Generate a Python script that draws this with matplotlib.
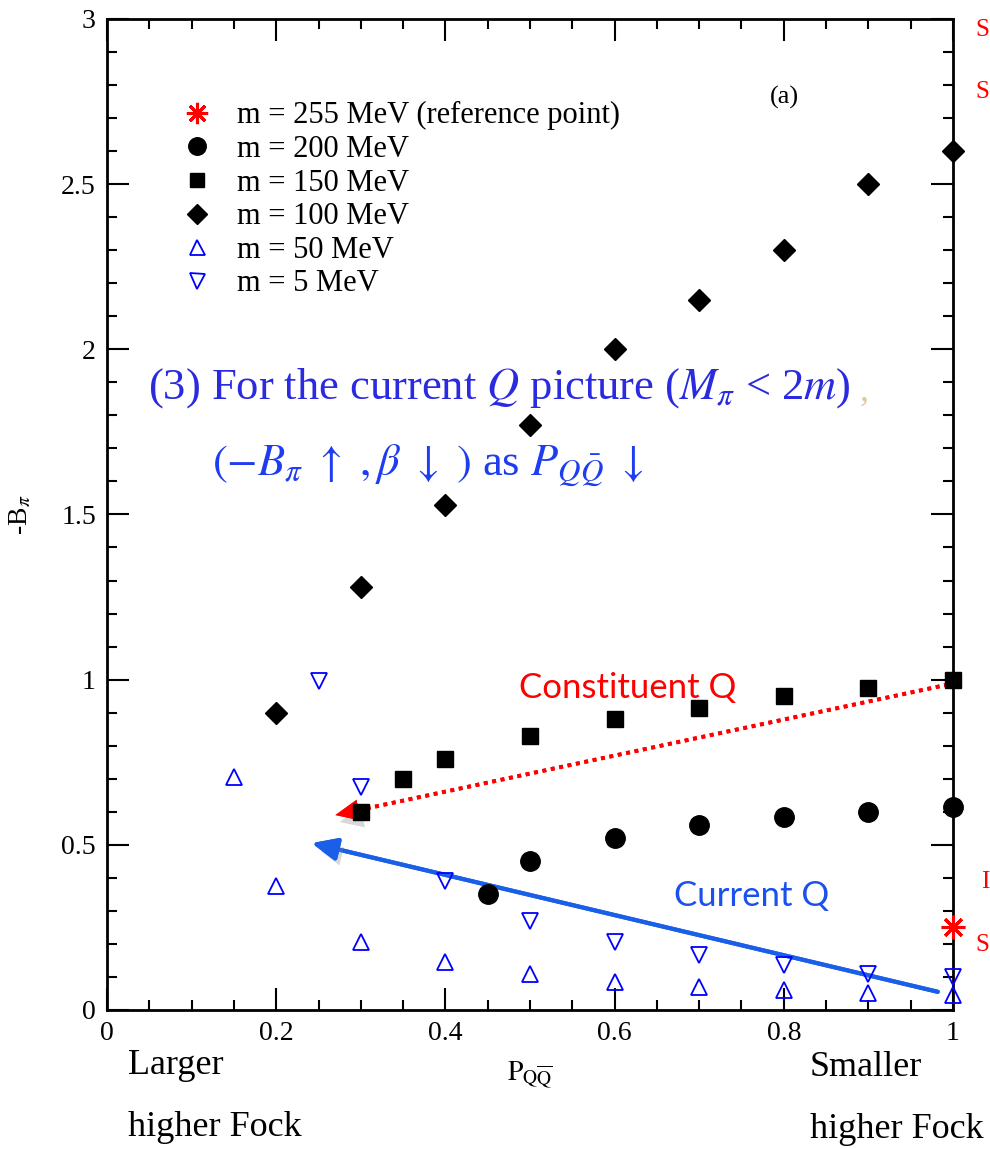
import matplotlib
matplotlib.use("Agg")
import matplotlib.pyplot as plt
import matplotlib.patheffects as pe
from matplotlib.ticker import MultipleLocator

plt.rcParams['font.family'] = ['Liberation Serif', 'DejaVu Serif']
plt.rcParams['mathtext.fontset'] = 'stix'

# m = 100 MeV (diamonds)
x100 = [0.2, 0.3, 0.4, 0.5, 0.6, 0.7, 0.8, 0.9, 1.0]
y100 = [0.90, 1.28, 1.53, 1.77, 2.00, 2.15, 2.30, 2.50, 2.60]
# m = 150 MeV (squares)
x150 = [0.3, 0.35, 0.4, 0.5, 0.6, 0.7, 0.8, 0.9, 1.0]
y150 = [0.60, 0.70, 0.76, 0.83, 0.88, 0.915, 0.95, 0.975, 1.0]
# m = 200 MeV (circles)
x200 = [0.45, 0.5, 0.6, 0.7, 0.8, 0.9, 1.0]
y200 = [0.35, 0.45, 0.52, 0.56, 0.585, 0.60, 0.615]
# m = 50 MeV (up triangles)
x50 = [0.15, 0.2, 0.3, 0.4, 0.5, 0.6, 0.7, 0.8, 0.9, 1.0]
y50 = [0.705, 0.375, 0.205, 0.145, 0.11, 0.085, 0.07, 0.06, 0.05, 0.045]
# m = 5 MeV (down triangles)
x5 = [0.25, 0.3, 0.4, 0.5, 0.6, 0.7, 0.8, 0.9, 1.0]
y5 = [0.995, 0.675, 0.39, 0.27, 0.205, 0.165, 0.135, 0.11, 0.10]
# reference point m = 255 MeV
x255 = [1.0]
y255 = [0.25]

fig = plt.figure(figsize=(9.9, 11.49), dpi=100)
ax = fig.add_axes([0.1081, 0.1210, 0.8545, 0.8625])

ax.plot(x255, y255, linestyle='none', marker=(8, 2, 0), markersize=17, color='red',
        markeredgewidth=2.2, clip_on=False, zorder=5, label='m = 255 MeV (reference point)')
ax.plot(x200, y200, linestyle='none', marker='o', markersize=14, color='black',
        clip_on=False, zorder=5, label='m = 200 MeV')
ax.plot(x150, y150, linestyle='none', marker='s', markersize=11.5, color='black',
        clip_on=False, zorder=5, label='m = 150 MeV')
ax.plot(x100, y100, linestyle='none', marker='D', markersize=11, color='black',
        clip_on=False, zorder=5, label='m = 100 MeV')
ax.plot(x50, y50, linestyle='none', marker='^', markersize=12, markerfacecolor='none',
        markeredgecolor='blue', markeredgewidth=1.3, clip_on=False, zorder=5, label='m = 50 MeV')
ax.plot(x5, y5, linestyle='none', marker='v', markersize=12, markerfacecolor='none',
        markeredgecolor='blue', markeredgewidth=1.3, clip_on=False, zorder=5, label='m = 5 MeV')

ax.legend(loc='upper left', bbox_to_anchor=(0.081, 0.923), frameon=False, fontsize=22,
          handlelength=1.0, handletextpad=0.8, labelspacing=0.15, borderpad=0.2,
          borderaxespad=0, markerscale=0.9)

ax.set_xlim(0, 1)
ax.set_ylim(0, 3)
ax.xaxis.set_minor_locator(MultipleLocator(0.05))
ax.yaxis.set_minor_locator(MultipleLocator(0.1))
ax.set_xticks([0, 0.2, 0.4, 0.6, 0.8, 1.0])
ax.set_xticklabels(['0', '0.2', '0.4', '0.6', '0.8', '1'])
ax.set_yticks([0, 0.5, 1, 1.5, 2, 2.5, 3])
ax.set_yticklabels(['0', '0.5', '1', '1.5', '2', '2.5', '3'])
ax.tick_params(which='both', direction='in', top=True, right=True, width=1.5, labelsize=20)
ax.tick_params(which='major', length=16, pad=8)
ax.tick_params(which='minor', length=7)
for s in ax.spines.values():
    s.set_linewidth(2)

ax.set_xlabel(r'$\mathrm{P}_{\mathrm{Q\overline{Q}}}$', fontsize=20, labelpad=10)
ax.set_ylabel(r'-B$_\pi$', fontsize=20, labelpad=20)
ax.text(0.801, 0.921, '(a)', transform=ax.transAxes, fontsize=19, ha='center', va='center')

# arrows with soft shadows
shadow = [pe.withSimplePatchShadow(offset=(3, -5), shadow_rgbFace='gray', alpha=0.3), pe.Normal()]
# constituent Q: dotted shaft + solid head
ax.annotate('', xy=(0.29, 0.601), xytext=(0.994, 0.985),
            arrowprops=dict(arrowstyle='-', color='red', lw=2.8, linestyle=(0, (1, 1.2)),
                            capstyle='butt', shrinkA=0, shrinkB=0, path_effects=shadow), zorder=4)
ax.annotate('', xy=(0.27, 0.59), xytext=(0.32, 0.617),
            arrowprops=dict(arrowstyle='-|>,head_length=0.9,head_width=0.4', color='red',
                            lw=0.01, mutation_scale=19, shrinkA=0, shrinkB=0,
                            path_effects=shadow), zorder=4)
ax.annotate('', xy=(0.242, 0.505), xytext=(0.982, 0.055),
            arrowprops=dict(arrowstyle='-|>,head_length=0.9,head_width=0.4', color='#1a5fe8',
                            lw=3, mutation_scale=17, shrinkA=0, shrinkB=0,
                            path_effects=shadow), zorder=4)

ax.text(0.615, 0.975, 'Constituent Q', color='red', fontsize=25, family='Lato',
        ha='center', va='center')
ax.text(0.762, 0.345, 'Current Q', color='#1a50f0', fontsize=25, family='Lato',
        ha='center', va='center')

ax.text(0.048, 1.883, r'(3) For the current $Q$ picture ($M_\pi$ < 2$m$)', color='#2a2ae0',
        fontsize=32, ha='left', va='center')
ax.text(0.89, 1.87, ',', color='#e0c8a0', fontsize=26, ha='left', va='center')
ax.text(0.124, 1.65,
        r'$(-B_\pi\ \uparrow\ ,\beta\ \downarrow\ )$ as $P_{Q\bar{Q}}\ \downarrow$',
        color='#1e3cf0', fontsize=32, ha='left', va='center')

# bottom annotations
fig.text(128 / 990, 1 - 1065 / 1149, 'Larger', fontsize=26, ha='left', va='center')
fig.text(128 / 990, 1 - 1128 / 1149, 'higher Fock', fontsize=26, ha='left', va='center')
fig.text(810 / 990, 1 - 1068 / 1149, 'Smaller', fontsize=26, ha='left', va='center')
fig.text(810 / 990, 1 - 1130 / 1149, 'higher Fock', fontsize=26, ha='left', va='center')

# red letters at the right edge
fig.text(989 / 990, 1 - 30 / 1149, 'S', color='red', fontsize=18, ha='right', va='center')
fig.text(989 / 990, 1 - 92 / 1149, 'S', color='red', fontsize=18, ha='right', va='center')
fig.text(989 / 990, 1 - 882 / 1149, 'I', color='red', fontsize=18, ha='right', va='center')
fig.text(989 / 990, 1 - 945 / 1149, 'S', color='red', fontsize=18, ha='right', va='center')

fig.savefig('out.png', dpi=100)
